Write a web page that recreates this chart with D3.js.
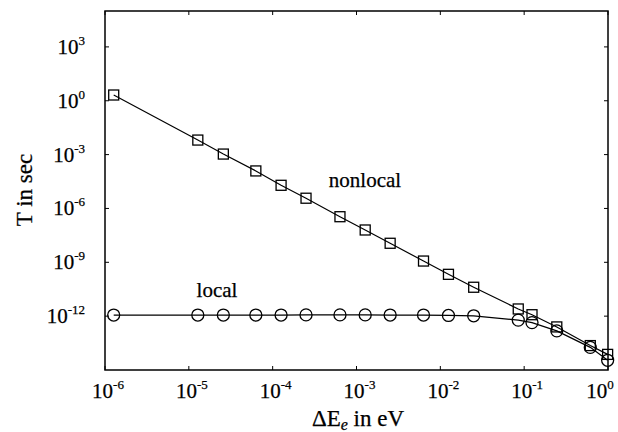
<!DOCTYPE html>
<html>
<head>
<meta charset="utf-8">
<script src="https://cdn.jsdelivr.net/npm/d3@7"></script>
<style>
  body { margin: 0; background: #fff; }
  svg { display: block; }
  text { fill: #000; stroke: #000; stroke-width: 0.25; }
</style>
</head>
<body>
<svg id="chart"></svg>
<script>
const W = 618, H = 432;
const SERIF = "'Liberation Serif', 'Times New Roman', serif";

// energies (eV) shared by both series
const energy = [1.27e-6, 1.28e-5, 2.58e-5, 6.3e-5, 1.26e-4, 2.5e-4, 6.35e-4, 1.27e-3,
  2.52e-3, 6.3e-3, 1.25e-2, 2.5e-2, 8.5e-2, 0.124, 0.245, 0.615, 0.99];
// log10 of T (sec)
const nonlocalLog = [0.32, -2.19, -2.97, -3.91, -4.71, -5.43, -6.46, -7.2, -7.94,
  -8.93, -9.67, -10.39, -11.6, -11.92, -12.6, -13.64, -14.13];
const localLog = [-11.94, -11.94, -11.94, -11.94, -11.94, -11.93, -11.93, -11.93, -11.94,
  -11.94, -11.96, -11.98, -12.22, -12.36, -12.82, -13.74, -14.46];

const xTickExp = [-6, -5, -4, -3, -2, -1, 0];
const yTickExp = [3, 0, -3, -6, -9, -12];

const svg = d3.select("#chart").attr("width", W).attr("height", H)
  .style("font-family", SERIF);

const x = d3.scaleLog().domain([1e-6, 1]).range([105, 608]);
const y = d3.scaleLog().domain([1e-15, 1e5]).range([370, 11]);

const g = svg.append("g");

// frame
g.append("rect")
  .attr("x", 105).attr("y", 11)
  .attr("width", 608 - 105).attr("height", 370 - 11)
  .attr("fill", "none").attr("stroke", "#000").attr("stroke-width", 1.5);

// x ticks bottom + top
xTickExp.forEach(e => {
  const px = x(Math.pow(10, e));
  g.append("line").attr("x1", px).attr("x2", px).attr("y1", 370).attr("y2", 366)
    .attr("stroke", "#000");
  g.append("line").attr("x1", px).attr("x2", px).attr("y1", 11).attr("y2", 15)
    .attr("stroke", "#000");
  const t = g.append("text").attr("x", e === 0 ? px - 8 : px + 3).attr("y", 398)
    .attr("text-anchor", "middle").attr("font-size", 21);
  t.append("tspan").text("10");
  t.append("tspan").attr("dy", -9).attr("font-size", 13).text(e === 0 ? "0" : e);
});

// y ticks left + right
yTickExp.forEach(e => {
  const py = y(Math.pow(10, e));
  g.append("line").attr("x1", 105).attr("x2", 109).attr("y1", py).attr("y2", py)
    .attr("stroke", "#000");
  g.append("line").attr("x1", 608).attr("x2", 604).attr("y1", py).attr("y2", py)
    .attr("stroke", "#000");
  const t = g.append("text").attr("x", 85).attr("y", py + 7)
    .attr("text-anchor", "end").attr("font-size", 21);
  t.append("tspan").text("10");
  t.append("tspan").attr("dy", -9).attr("font-size", 13).text(e === 0 ? "0" : e);
});

const line = d3.line().x(d => x(d[0])).y(d => y(Math.pow(10, d[1])));

const nonlocal = energy.map((e, i) => [e, nonlocalLog[i]]);
const local = energy.map((e, i) => [e, localLog[i]]);

g.append("path").datum(nonlocal).attr("d", line)
  .attr("fill", "none").attr("stroke", "#000").attr("stroke-width", 1.2);
g.append("path").datum(local).attr("d", line)
  .attr("fill", "none").attr("stroke", "#000").attr("stroke-width", 1.2);

g.selectAll("rect.sq").data(nonlocal).enter().append("rect")
  .attr("class", "sq")
  .attr("x", d => x(d[0]) - 5).attr("y", d => y(Math.pow(10, d[1])) - 5)
  .attr("width", 10).attr("height", 10)
  .attr("fill", "none").attr("stroke", "#000").attr("stroke-width", 1.3);

g.selectAll("circle.ci").data(local).enter().append("circle")
  .attr("class", "ci")
  .attr("cx", d => x(d[0])).attr("cy", d => y(Math.pow(10, d[1])))
  .attr("r", 6)
  .attr("fill", "none").attr("stroke", "#000").attr("stroke-width", 1.3);

// series labels
g.append("text").attr("x", 365).attr("y", 187).attr("text-anchor", "middle")
  .attr("font-size", 21).text("nonlocal");
g.append("text").attr("x", 217).attr("y", 297).attr("text-anchor", "middle")
  .attr("font-size", 21).text("local");

// axis titles
const xt = g.append("text").attr("x", 358).attr("y", 426).attr("text-anchor", "middle")
  .attr("font-size", 23);
xt.append("tspan").text("ΔE");
xt.append("tspan").attr("dy", 4).attr("font-size", 16).attr("font-style", "italic").text("e");
xt.append("tspan").attr("dy", -4).text(" in eV");

g.append("text")
  .attr("transform", "translate(32,190) rotate(-90)")
  .attr("text-anchor", "middle").attr("font-size", 23)
  .text("T in sec");
</script>
</body>
</html>
